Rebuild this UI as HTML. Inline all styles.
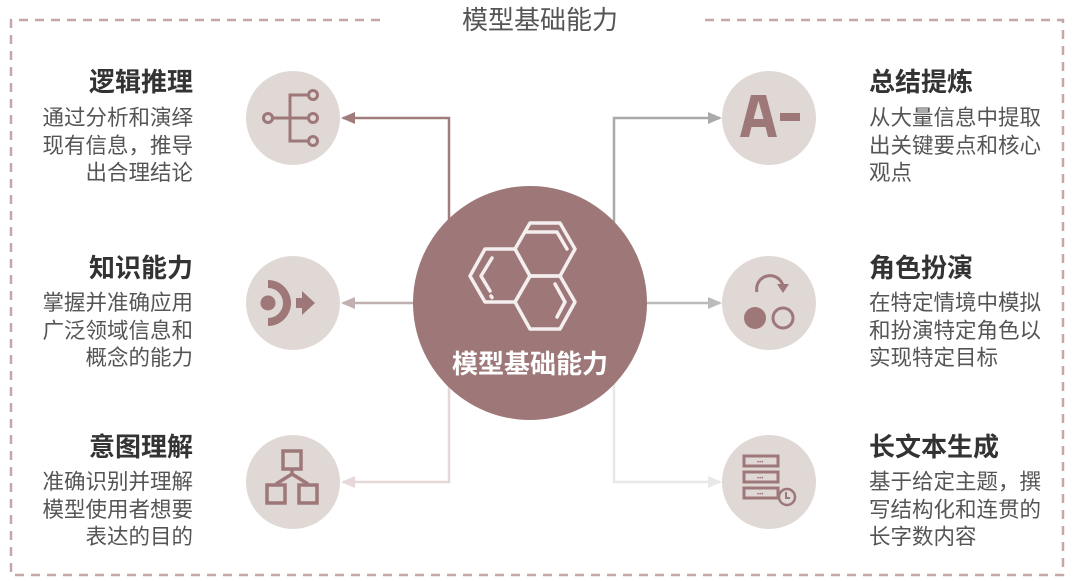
<!DOCTYPE html>
<html><head><meta charset="utf-8"><style>
html,body{margin:0;padding:0;background:#fff;}
svg{display:block;}
text{font-family:"Liberation Sans","Noto Sans CJK SC",sans-serif;}
</style></head><body>
<svg width="1080" height="586" viewBox="0 0 1080 586" xmlns="http://www.w3.org/2000/svg">
<defs>
<marker id="a1" markerWidth="14" markerHeight="12" refX="12" refY="6" orient="auto" markerUnits="userSpaceOnUse"><path d="M0,0 L14,6 L0,12 z" fill="#a07c7c"/></marker>
<marker id="a2" markerWidth="14" markerHeight="12" refX="12" refY="6" orient="auto" markerUnits="userSpaceOnUse"><path d="M0,0 L14,6 L0,12 z" fill="#c2b0b0"/></marker>
<marker id="a3" markerWidth="14" markerHeight="12" refX="12" refY="6" orient="auto" markerUnits="userSpaceOnUse"><path d="M0,0 L14,6 L0,12 z" fill="#e6d8d8"/></marker>
<marker id="b1" markerWidth="14" markerHeight="12" refX="12" refY="6" orient="auto" markerUnits="userSpaceOnUse"><path d="M0,0 L14,6 L0,12 z" fill="#aaaaaa"/></marker>
<marker id="b2" markerWidth="14" markerHeight="12" refX="12" refY="6" orient="auto" markerUnits="userSpaceOnUse"><path d="M0,0 L14,6 L0,12 z" fill="#bbbbbb"/></marker>
<marker id="b3" markerWidth="14" markerHeight="12" refX="12" refY="6" orient="auto" markerUnits="userSpaceOnUse"><path d="M0,0 L14,6 L0,12 z" fill="#e8e8e8"/></marker>
</defs>
<g stroke="#c4a8a8" stroke-width="2.5" stroke-dasharray="9,7" fill="none">
<path d="M380,20 L11,20 L11,575 L1063,575 L1063,20 L700,20"/>
</g>
<text x="540" y="29" font-size="26" fill="#555" text-anchor="middle">模型基础能力</text>

<g fill="none" stroke-width="2.5">
<path d="M449,230 L449,118 L343,118" stroke="#a07c7c" marker-end="url(#a1)"/>
<path d="M420,303 L343,303" stroke="#c2b0b0" marker-end="url(#a2)"/>
<path d="M449,380 L449,482 L343,482" stroke="#e6d8d8" marker-end="url(#a3)"/>
<path d="M614,230 L614,118 L720,118" stroke="#aaaaaa" marker-end="url(#b1)"/>
<path d="M640,303 L720,303" stroke="#bbbbbb" marker-end="url(#b2)"/>
<path d="M614,380 L614,482 L720,482" stroke="#e8e8e8" marker-end="url(#b3)"/>
</g>

<circle cx="530" cy="303" r="117" fill="#9e7878"/>
<g fill="none" stroke="#f4eeee" stroke-width="3.5" stroke-linejoin="round" stroke-linecap="round">
<polygon points="530,276 515,302 485,302 470,276 485,249 515,249"/>
<polygon points="575,249 560,276 530,276 515,249 530,223 560,223"/>
<polygon points="575,302 560,329 530,329 515,302 530,276 560,276"/>
<path d="M526,232 L557,232 L567,249"/>
<path d="M492,258 L481,276 L490,291"/>
<path d="M555,284 L565,302 L557,317"/>
<path d="M491,296 l1,1.5"/>
</g>
<text x="530" y="373" font-size="26" fill="#fff" font-weight="bold" text-anchor="middle">模型基础能力</text>

<g fill="#e0d8d5">
<circle cx="293" cy="118" r="47"/><circle cx="293" cy="303" r="47"/><circle cx="293" cy="482" r="47"/>
<circle cx="769" cy="118" r="47"/><circle cx="769" cy="303" r="47"/><circle cx="769" cy="482" r="47"/>
</g>

<g fill="none" stroke="#9e7878" stroke-width="3">
<circle cx="268" cy="118" r="4.5"/>
<path d="M272.5,118 L308,118"/>
<path d="M308,95 L290,95 L290,141 L308,141"/>
<circle cx="313" cy="95" r="4.5"/><circle cx="313" cy="118" r="4.5"/><circle cx="313" cy="141" r="4.5"/>
</g>
<g fill="#9e7878">
<circle cx="268" cy="303" r="7.5"/>
<path d="M268,280 A23,23 0 0 1 268,326 L268,318 A15,15 0 0 0 268,288 Z"/>
<rect x="296" y="298" width="6" height="10"/>
<path d="M302,291 L315,303 L302,315 Z"/>
</g>
<g fill="none" stroke="#9e7878" stroke-width="3.5">
<rect x="283" y="451" width="18" height="18"/>
<path d="M292,469 L292,474 L276,484 M292,474 L308,484"/>
<rect x="267" y="485" width="18" height="18"/>
<rect x="299" y="485" width="18" height="18"/>
</g>
<path fill="#9e7878" fill-rule="evenodd" d="M740,137 L751,95 L766,95 L777,137 L768,137 L765.5,127 L751.5,127 L749,137 Z M753.5,119 L763.5,119 L758.5,101 Z"/>
<rect x="780" y="113" width="20" height="8" fill="#9e7878"/>
<g>
<path d="M757,292 A12,12 0 1 1 783,286" fill="none" stroke="#9e7878" stroke-width="3"/>
<path d="M777,284 L789,284 L783,293 Z" fill="#9e7878"/>
<circle cx="755" cy="318" r="11" fill="#9e7878"/>
<circle cx="783" cy="318" r="10" fill="none" stroke="#9e7878" stroke-width="3"/>
</g>
<g fill="none" stroke="#9e7878" stroke-width="3">
<rect x="744" y="456" width="34" height="10"/>
<rect x="744" y="472" width="34" height="10"/>
<rect x="744" y="488" width="34" height="10"/>
<circle cx="787" cy="497" r="8" stroke-width="2.5"/>
<path d="M786,492 L786,498 L790,498" stroke-width="2"/>
</g>
<g fill="#9e7878" font-size="6"><text x="757" y="464">•••</text><text x="757" y="480">•••</text><text x="757" y="496">•••</text></g>

<g fill="#333" font-size="26" font-weight="bold" text-anchor="end">
<text x="193" y="91">逻辑推理</text>
<text x="193" y="277">知识能力</text>
<text x="193" y="456">意图理解</text>
</g>
<g fill="#555" font-size="21.5" text-anchor="end">
<text x="193" y="125">通过分析和演绎</text>
<text x="193" y="153">现有信息，推导</text>
<text x="193" y="180">出合理结论</text>
<text x="193" y="310">掌握并准确应用</text>
<text x="193" y="338">广泛领域信息和</text>
<text x="193" y="365">概念的能力</text>
<text x="193" y="489">准确识别并理解</text>
<text x="193" y="517">模型使用者想要</text>
<text x="193" y="544">表达的目的</text>
</g>
<g fill="#333" font-size="26" font-weight="bold">
<text x="869" y="91">总结提炼</text>
<text x="869" y="277">角色扮演</text>
<text x="869" y="456">长文本生成</text>
</g>
<g fill="#555" font-size="21.5">
<text x="869" y="125">从大量信息中提取</text>
<text x="869" y="153">出关键要点和核心</text>
<text x="869" y="180">观点</text>
<text x="869" y="310">在特定情境中模拟</text>
<text x="869" y="338">和扮演特定角色以</text>
<text x="869" y="365">实现特定目标</text>
<text x="869" y="489">基于给定主题，撰</text>
<text x="869" y="517">写结构化和连贯的</text>
<text x="869" y="544">长字数内容</text>
</g>
</svg>
</body></html>
